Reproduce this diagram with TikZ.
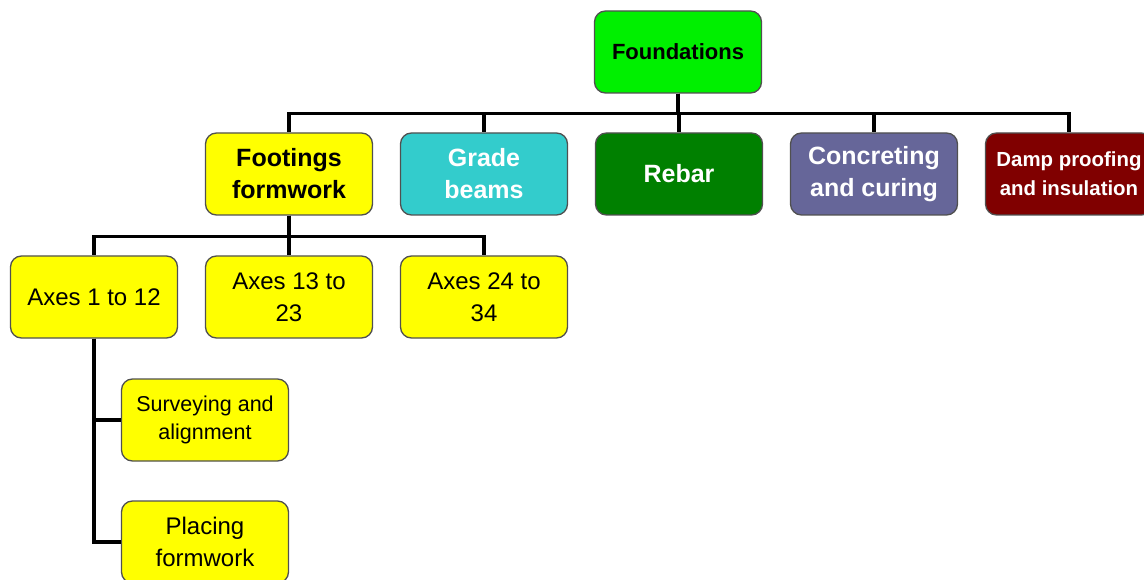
\documentclass[tikz,border=0pt]{standalone}
\usepackage{fontspec}
\setmainfont{Liberation Sans}
\definecolor{cGreen}{HTML}{00F000}
\definecolor{cYellow}{HTML}{FFFF00}
\definecolor{cTeal}{HTML}{33CCCC}
\definecolor{cDkGreen}{HTML}{008000}
\definecolor{cSlate}{HTML}{666699}
\definecolor{cMaroon}{HTML}{800000}
\definecolor{cBorder}{HTML}{505050}
\begin{document}
\begin{tikzpicture}[x=1pt,y=-1pt,
  box/.style={draw=cBorder,line width=1.3pt,rounded corners=11pt,minimum width=167pt,minimum height=82pt,align=center,inner sep=2pt},
  bb/.style={font=\fontsize{25}{32}\selectfont\bfseries},
  rr/.style={font=\fontsize{24}{32}\selectfont},
  conn/.style={line width=3.5pt,black}]
\useasboundingbox (0,0) rectangle (1144,580);
\clip (0,0) rectangle (1144,580);
\fill[white] (0,0) rectangle (1144,580);
\node[box,fill=cGreen,font=\fontsize{22}{30}\selectfont\bfseries] (F) at (678,52) {Foundations};
\node[box,bb,fill=cYellow] (FF) at (289,174) {Footings\\formwork};
\node[box,bb,fill=cTeal,text=white] (GB) at (484,174) {Grade\\beams};
\node[box,bb,fill=cDkGreen,text=white] (RB) at (679,174) {Rebar};
\node[box,bb,fill=cSlate,text=white] (CC) at (874,174) {Concreting\\and curing};
\node[box,fill=cMaroon,text=white,font=\fontsize{20.4}{29}\selectfont\bfseries] (DP) at (1069,174) {Damp proofing\\and insulation};
\node[box,rr,fill=cYellow] (A1) at (94,297) {Axes 1 to 12};
\node[box,rr,fill=cYellow] (A2) at (289,297) {Axes 13 to\\23};
\node[box,rr,fill=cYellow] (A3) at (484,297) {Axes 24 to\\34};
\node[box,fill=cYellow,font=\fontsize{21.5}{28}\selectfont] (SA) at (205,420) {Surveying and\\alignment};
\node[box,rr,fill=cYellow] (PF) at (205,542) {Placing\\formwork};
\foreach \n in {FF,GB,RB,CC,DP} \draw[conn] (F.south) -- ++(0,20) -| (\n.north);
\foreach \n in {A1,A2,A3} \draw[conn] (FF.south) -- ++(0,21) -| (\n.north);
\draw[conn] (A1.south) |- (SA.west);
\draw[conn] (A1.south) |- (PF.west);
\end{tikzpicture}
\end{document}
